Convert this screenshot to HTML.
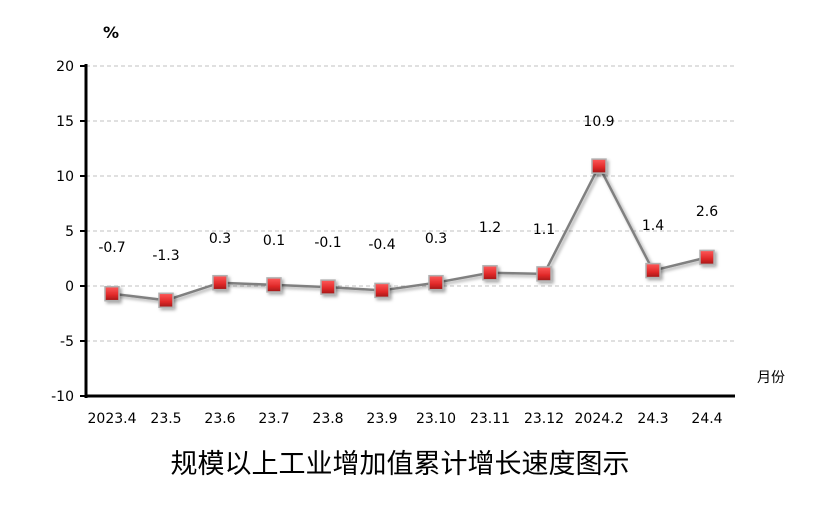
<!DOCTYPE html>
<html><head><meta charset="utf-8"><style>body{margin:0;background:#fff}svg{display:block}</style></head>
<body>
<svg width="823" height="510" xmlns="http://www.w3.org/2000/svg" font-family="DejaVu Sans, Liberation Sans, sans-serif">
<defs>
<linearGradient id="g" x1="0" y1="0" x2="0" y2="1"><stop offset="0" stop-color="#ff5a5a"/><stop offset="0.6" stop-color="#e02828"/><stop offset="1" stop-color="#a01818"/></linearGradient>
<filter id="s" x="-50%" y="-50%" width="200%" height="200%"><feDropShadow dx="2" dy="2" stdDeviation="1.5" flood-color="#000" flood-opacity="0.35"/></filter>
</defs>
<g stroke="#c0c0c0" stroke-dasharray="4,3" stroke-width="1">
<line x1="86" y1="66" x2="735" y2="66"/><line x1="86" y1="121" x2="735" y2="121"/><line x1="86" y1="176" x2="735" y2="176"/><line x1="86" y1="231" x2="735" y2="231"/><line x1="86" y1="286" x2="735" y2="286"/><line x1="86" y1="341" x2="735" y2="341"/>
</g>
<line x1="86" y1="64" x2="86" y2="398" stroke="#000" stroke-width="3"/>
<line x1="85" y1="396" x2="735" y2="396" stroke="#000" stroke-width="3"/>
<g stroke="#000" stroke-width="2"><line x1="80" y1="66" x2="86" y2="66"/><line x1="80" y1="121" x2="86" y2="121"/><line x1="80" y1="176" x2="86" y2="176"/><line x1="80" y1="231" x2="86" y2="231"/><line x1="80" y1="286" x2="86" y2="286"/><line x1="80" y1="341" x2="86" y2="341"/><line x1="80" y1="396" x2="86" y2="396"/></g>
<g font-size="14" text-anchor="end" fill="#000"><text x="74" y="71">20</text><text x="74" y="126">15</text><text x="74" y="181">10</text><text x="74" y="236">5</text><text x="74" y="291">0</text><text x="74" y="346">-5</text><text x="74" y="401">-10</text></g>
<text x="103" y="38" font-size="16" font-weight="bold">%</text>
<text x="757" y="382" font-size="14" font-family="Liberation Sans, Noto Sans CJK SC, sans-serif">月份</text>
<polyline fill="none" stroke="#808080" stroke-width="2.5" filter="url(#s)" points="112,293.7 166,300.3 220,282.7 274,284.9 328,287.1 382,290.4 436,282.7 490,272.8 544,273.9 599,166.1 653,270.6 707,257.4"/>
<g fill="url(#g)" stroke="#b0b0b0" stroke-width="1.5" filter="url(#s)">
<rect x="105" y="286.7" width="14" height="14"/><rect x="159" y="293.3" width="14" height="14"/><rect x="213" y="275.7" width="14" height="14"/><rect x="267" y="277.9" width="14" height="14"/><rect x="321" y="280.1" width="14" height="14"/><rect x="375" y="283.4" width="14" height="14"/><rect x="429" y="275.7" width="14" height="14"/><rect x="483" y="265.8" width="14" height="14"/><rect x="537" y="266.9" width="14" height="14"/><rect x="592" y="159.1" width="14" height="14"/><rect x="646" y="263.6" width="14" height="14"/><rect x="700" y="250.4" width="14" height="14"/>
</g>
<g font-size="14" text-anchor="middle" fill="#000">
<text x="112" y="252">-0.7</text><text x="166" y="260">-1.3</text><text x="220" y="243">0.3</text><text x="274" y="245">0.1</text><text x="328" y="247">-0.1</text><text x="382" y="249">-0.4</text><text x="436" y="243">0.3</text><text x="490" y="232">1.2</text><text x="544" y="234">1.1</text><text x="599" y="126">10.9</text><text x="653" y="230">1.4</text><text x="707" y="216">2.6</text>
</g>
<g font-size="14" text-anchor="middle" fill="#000">
<text x="112" y="423">2023.4</text><text x="166" y="423">23.5</text><text x="220" y="423">23.6</text><text x="274" y="423">23.7</text><text x="328" y="423">23.8</text><text x="382" y="423">23.9</text><text x="436" y="423">23.10</text><text x="490" y="423">23.11</text><text x="544" y="423">23.12</text><text x="599" y="423">2024.2</text><text x="653" y="423">24.3</text><text x="707" y="423">24.4</text>
</g>
<text x="400" y="473" font-size="27" text-anchor="middle" font-family="Noto Sans CJK SC, sans-serif">规模以上工业增加值累计增长速度图示</text>
</svg>
</body></html>
